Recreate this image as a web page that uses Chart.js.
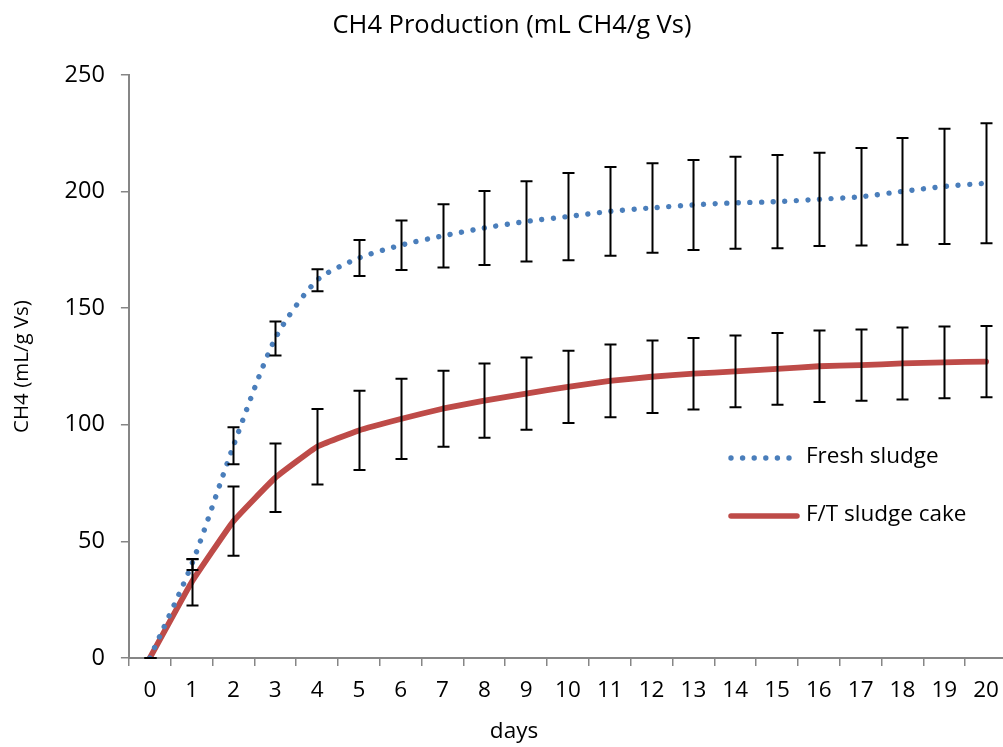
<!DOCTYPE html>
<html>
<head>
<meta charset="utf-8">
<script src="https://cdn.jsdelivr.net/npm/chart.js@4.4.1/dist/chart.umd.min.js"></script>
<style>
  html, body { margin: 0; padding: 0; background: #fff; overflow: hidden; }
</style>
</head>
<body>
<canvas id="ch4-chart" width="1010" height="747"></canvas>
<script>
// 데이터
const days = ["0", "1", "2", "3", "4", "5", "6", "7", "8", "9", "10",
  "11", "12", "13", "14", "15", "16", "17", "18", "19", "20"];
const freshSludge = [0, 40, 91, 137, 162, 171.5, 177, 181, 184.4, 187.2, 189.3,
  191.5, 193, 194.3, 195.2, 195.7, 196.7, 197.8, 200.1, 202.2, 203.6];
const freshErr = [0, 2.3, 7.9, 7.3, 4.7, 7.7, 10.6, 13.6, 15.9, 17.2, 18.7,
  19, 19.2, 19.3, 19.7, 20, 20, 20.9, 22.9, 24.7, 25.7];
const ftCake = [0, 32.5, 58.7, 77.3, 90.6, 97.6, 102.5, 106.9, 110.4, 113.4, 116.3,
  118.8, 120.6, 121.9, 122.9, 124.0, 125.1, 125.6, 126.3, 126.8, 127.1];
const ftErr = [0, 10, 14.8, 14.7, 16.2, 17, 17.2, 16.3, 15.9, 15.5, 15.5,
  15.6, 15.5, 15.3, 15.4, 15.4, 15.3, 15.3, 15.4, 15.4, 15.3];
const yTicks = [0, 50, 100, 150, 200, 250];

const chartTitle = "CH4 Production (mL CH4/g Vs)";
const xTitle = "days";
const yTitle = "CH4 (mL/g Vs)";

const FONT = "'Open Sans', sans-serif";
const BLUE = "#4a7ebb";
const RED = "#be4b48";
const AXIS = "#868686";

// 오차 막대
const errorBars = {
  id: "errorBars",
  afterDatasetsDraw(chart) {
    const ctx = chart.ctx;
    const xs = chart.scales.x;
    const ys = chart.scales.y;
    ctx.save();
    ctx.strokeStyle = "#000";
    ctx.lineWidth = 2;
    chart.data.datasets.forEach((ds) => {
      ds.errors.forEach((err, i) => {
        const px = Math.round(xs.getPixelForValue(i)) + 0.5;
        const top = ys.getPixelForValue(ds.data[i] + err);
        const bot = ys.getPixelForValue(ds.data[i] - err);
        ctx.beginPath();
        ctx.moveTo(px, top);
        ctx.lineTo(px, bot);
        ctx.moveTo(px - 6, top);
        ctx.lineTo(px + 6, top);
        ctx.moveTo(px - 6, bot);
        ctx.lineTo(px + 6, bot);
        ctx.stroke();
      });
    });
    ctx.restore();
  },
};

// 제목, 범례, x축 제목 (직접 그림)
const extraText = {
  id: "extraText",
  afterDraw(chart) {
    const ctx = chart.ctx;
    const ds = chart.data.datasets;
    ctx.save();
    // 점선 샘플
    ctx.fillStyle = BLUE;
    for (let i = 0; i < 6; i++) {
      ctx.beginPath();
      ctx.arc(731 + i * 11.6, 458, 2.7, 0, 2 * Math.PI);
      ctx.fill();
    }
    // 실선 샘플
    ctx.strokeStyle = RED;
    ctx.lineWidth = 5.5;
    ctx.lineCap = "round";
    ctx.beginPath();
    ctx.moveTo(731, 516);
    ctx.lineTo(797, 516);
    ctx.stroke();

    ctx.fillStyle = "#000";
    ctx.textBaseline = "middle";
    ctx.textAlign = "left";
    ctx.font = "22.5px " + FONT;
    ctx.fillText(ds[0].label, 806, 457);
    ctx.fillText(ds[1].label, 806, 515);

    ctx.textAlign = "center";
    ctx.fillText(xTitle, 514, 732);

    ctx.font = "25.5px " + FONT;
    ctx.fillText(chartTitle, 512, 26);
    ctx.restore();
  },
};

const ctx = document.getElementById("ch4-chart").getContext("2d");
new Chart(ctx, {
  type: "line",
  data: {
    labels: days,
    datasets: [
      {
        label: "Fresh sludge",
        data: freshSludge,
        errors: freshErr,
        borderColor: BLUE,
        borderWidth: 5.4,
        borderDash: [0.01, 11.6],
        borderCapStyle: "round",
        tension: 0.25,
        pointRadius: 0,
        fill: false,
      },
      {
        label: "F/T sludge cake",
        data: ftCake,
        errors: ftErr,
        borderColor: RED,
        borderWidth: 5.8,
        borderCapStyle: "round",
        borderJoinStyle: "round",
        tension: 0.1,
        pointRadius: 0,
        fill: false,
      },
    ],
  },
  options: {
    responsive: false,
    animation: false,
    devicePixelRatio: 1,
    layout: {
      padding: { left: 4, right: 3, top: 75, bottom: 32 },
    },
    plugins: {
      legend: { display: false },
      tooltip: { enabled: false },
      title: { display: false },
    },
    scales: {
      x: {
        offset: true,
        grid: {
          offset: true,
          drawOnChartArea: false,
          drawTicks: true,
          tickLength: 8,
          color: AXIS,
          lineWidth: 1.5,
        },
        border: { color: AXIS, width: 2 },
        ticks: {
          color: "#000",
          font: { family: FONT, size: 22.5 },
          padding: 11,
          maxRotation: 0,
          autoSkip: false,
        },
      },
      y: {
        min: 0,
        max: 250,
        afterBuildTicks: (axis) => {
          axis.ticks = yTicks.map((v) => ({ value: v }));
        },
        grid: {
          drawOnChartArea: false,
          drawTicks: true,
          tickLength: 8,
          color: AXIS,
          lineWidth: 1.5,
        },
        border: { color: AXIS, width: 2 },
        ticks: {
          color: "#000",
          font: { family: FONT, size: 23.5 },
          padding: 16,
        },
        title: {
          display: true,
          text: yTitle,
          color: "#000",
          font: { family: FONT, size: 20.5 },
          padding: { top: 6, bottom: 14 },
        },
      },
    },
  },
  plugins: [errorBars, extraText],
});
</script>
</body>
</html>
